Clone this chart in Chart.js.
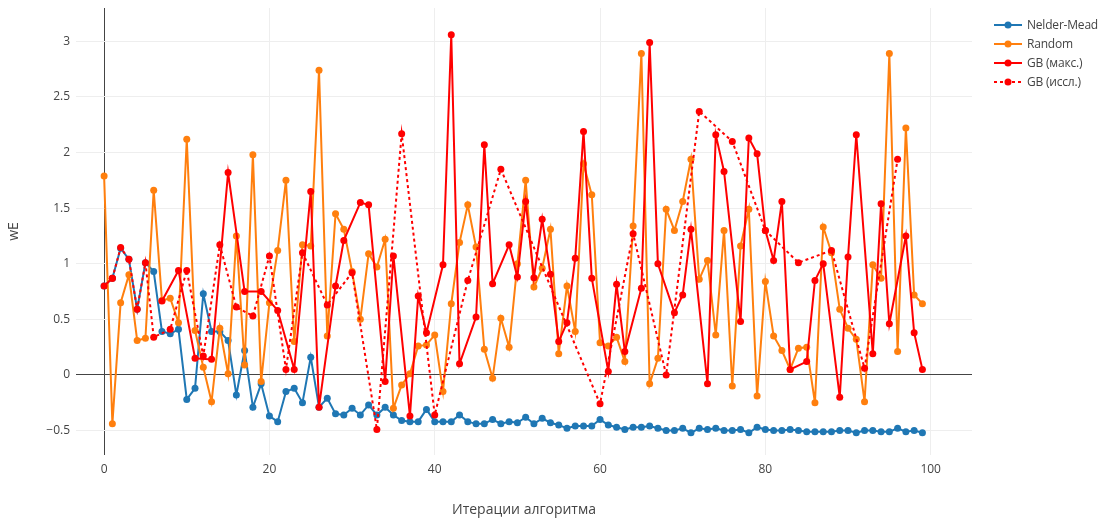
<!DOCTYPE html>
<html>
<head>
<meta charset="utf-8">
<script src="https://cdn.jsdelivr.net/npm/chart.js@4"></script>
<style>
  html, body { margin: 0; padding: 0; background: #fff; }
  #wrap { position: relative; width: 1100px; height: 520px; }
  #legend { position: absolute; left: 993px; top: 15px; font-family: "Open Sans", sans-serif; font-size: 12px; color: #444; white-space: nowrap; letter-spacing: -0.2px; }
  #legend div { height: 19px; display: flex; align-items: center; }
  #legend svg { margin-right: 4px; flex: none; }
</style>
</head>
<body>
<div id="wrap">
  <canvas id="grafica" width="1100" height="520"></canvas>
  <div id="legend"></div>
</div>
<script>
// Значения (индекс = итерация)
const nelderMead = [
  0.80, 0.87, 1.14, 1.04, 0.59, 1.01, 0.93, 0.39, 0.37, 0.41,
  -0.22, -0.12, 0.73, 0.39, 0.39, 0.31, -0.18, 0.22, -0.29, -0.08,
  -0.37, -0.42, -0.15, -0.12, -0.25, 0.16, -0.29, -0.21, -0.35, -0.36,
  -0.30, -0.36, -0.27, -0.36, -0.29, -0.36, -0.41, -0.42, -0.42, -0.31,
  -0.42, -0.42, -0.42, -0.36, -0.42, -0.44, -0.44, -0.40, -0.44, -0.42,
  -0.43, -0.38, -0.44, -0.39, -0.43, -0.45, -0.48, -0.46, -0.46, -0.46,
  -0.40, -0.45, -0.47, -0.49, -0.47, -0.47, -0.46, -0.48, -0.50, -0.50,
  -0.48, -0.52, -0.48, -0.49, -0.48, -0.50, -0.50, -0.49, -0.52, -0.47,
  -0.49, -0.50, -0.50, -0.49, -0.50, -0.51, -0.51, -0.51, -0.51, -0.50,
  -0.50, -0.52, -0.50, -0.50, -0.51, -0.51, -0.48, -0.51, -0.50, -0.52
];

const random = [
  1.79, -0.44, 0.65, 0.90, 0.31, 0.33, 1.66, 0.67, 0.69, 0.47,
  2.12, 0.40, 0.07, -0.24, 0.42, 0.01, 1.25, 0.09, 1.98, -0.06,
  0.65, 1.12, 1.75, 0.30, 1.17, 1.16, 2.74, 0.35, 1.45, 1.31,
  0.93, 0.50, 1.09, 0.97, 1.22, -0.30, -0.09, 0.01, 0.26, 0.27,
  0.36, -0.15, 0.64, 1.19, 1.53, 1.15, 0.23, -0.03, 0.51, 0.25,
  1.00, 1.75, 0.79, 0.96, 1.31, 0.19, 0.80, 0.39, 1.90, 1.62,
  0.29, 0.26, 0.34, 0.12, 1.34, 2.89, -0.08, 0.15, 1.49, 1.30,
  1.56, 1.94, 0.86, 1.03, 0.36, 1.30, -0.10, 1.16, 1.49, -0.19,
  0.84, 0.35, 0.22, 0.05, 0.24, 0.25, -0.25, 1.33, 1.10, 0.59,
  0.42, 0.32, -0.24, 0.99, 0.87, 2.89, 0.21, 2.22, 0.72, 0.64
];

// GB: точки "макс." и "иссл." (null — точки нет)
const gbMax = [
  0.80, 0.87, null, null, null, null, null, 0.665, null, 0.94,
  null, 0.15, null, 0.14, null, 1.82, null, 0.75, null, 0.75,
  null, 0.58, null, 0.05, null, 1.65, -0.29, null, 0.80, 1.21,
  null, 1.55, 1.53, null, -0.06, 1.07, null, -0.37, 0.71, 0.38,
  null, 0.99, 3.06, 0.10, null, 0.52, 2.07, 0.82, null, 1.17,
  0.88, 1.56, 0.875, 1.40, 0.905, 0.30, 0.47, 1.05, 2.19, 0.87,
  null, 0.03, 0.815, 0.21, null, 0.78, 2.99, 1.00, null, 0.56,
  0.72, 1.31, null, -0.08, 2.16, 1.83, null, 0.48, 2.13, 1.99,
  1.30, 1.03, 1.56, 0.05, null, 0.12, 0.85, 1.00, null, -0.20,
  1.06, 2.16, null, 0.19, 1.54, 0.46, null, 1.25, 0.38, 0.05
];
const gbMaxBreaks = [1]; // после этой итерации линия прерывается

const gbExplore = [
  null, 0.87, 1.145, 1.04, 0.59, 1.01, 0.34, null, 0.41, null,
  0.94, null, 0.17, null, 1.17, null, 0.61, null, 0.53, null,
  1.07, null, 0.05, null, 1.10, null, null, 0.63, null, null,
  0.92, null, null, -0.49, null, null, 2.17, null, null, null,
  -0.36, null, null, null, 0.85, null, null, null, 1.85, null,
  null, null, null, null, null, null, null, null, null, null,
  -0.26, null, null, null, 1.27, null, null, null, 0.00, null,
  null, null, 2.37, null, null, null, 2.10, null, null, null,
  1.30, null, null, null, 1.01, null, null, null, 1.12, null,
  null, null, 0.06, null, null, null, 1.94, null, null, null
];

const xTicks = [0, 20, 40, 60, 80, 100];
const yTicks = [-0.5, 0, 0.5, 1, 1.5, 2, 2.5, 3];

const azul = '#1f77b4';
const naranja = '#ff7f0e';
const rojo = '#ff0000';

function toPoints(arr, breaks) {
  const pts = [];
  arr.forEach((v, i) => {
    if (v !== null) pts.push({ x: i, y: v });
    if (breaks && breaks.includes(i)) pts.push({ x: i + 0.5, y: null });
  });
  return pts;
}

function serie(label, arr, color, order, dash, breaks) {
  return {
    label: label,
    data: toPoints(arr, breaks),
    borderColor: color,
    backgroundColor: color,
    borderWidth: 2,
    borderDash: dash || [],
    pointRadius: 3.5,
    pointBorderWidth: 0,
    pointBackgroundColor: color,
    tension: 0,
    spanGaps: false,
    order: order
  };
}

const ctx = document.getElementById('grafica').getContext('2d');
new Chart(ctx, {
  type: 'line',
  data: {
    datasets: [
      serie('Nelder-Mead', nelderMead, azul, 4),
      serie('Random', random, naranja, 3),
      serie('GB (макс.)', gbMax, rojo, 2, null, gbMaxBreaks),
      serie('GB (иссл.)', gbExplore, rojo, 1, [3, 3])
    ]
  },
  options: {
    responsive: false,
    animation: false,
    devicePixelRatio: 1,
    layout: { padding: { top: 8, right: 128, left: 0, bottom: 0 } },
    plugins: { legend: { display: false }, tooltip: { enabled: false } },
    scales: {
      x: {
        type: 'linear',
        min: -3.4,
        max: 105,
        afterBuildTicks: s => { s.ticks = xTicks.map(v => ({ value: v })); },
        afterFit: s => { s.height = 65; s.paddingLeft = 0; s.paddingRight = 0; },
        grid: {
          color: c => (c.tick && c.tick.value === 0) ? '#444' : '#eee',
          lineWidth: 1,
          drawTicks: false
        },
        border: { display: false },
        ticks: {
          padding: 7,
          color: '#444',
          font: { family: 'Open Sans', size: 12 },
          maxRotation: 0,
          callback: v => v
        },
        title: {
          display: true,
          text: 'Итерации алгоритма',
          color: '#444',
          font: { family: 'Open Sans', size: 14 },
          padding: { top: 0, bottom: 2 }
        }
      },
      y: {
        min: -0.72,
        max: 3.30,
        afterBuildTicks: s => { s.ticks = yTicks.map(v => ({ value: v })); },
        afterFit: s => { s.width = 76; s.paddingTop = 0; s.paddingBottom = 0; },
        grid: {
          color: c => (c.tick && c.tick.value === 0) ? '#444' : '#eee',
          lineWidth: 1,
          drawTicks: false
        },
        border: { display: false },
        ticks: {
          padding: 6,
          color: '#444',
          font: { family: 'Open Sans', size: 12 },
          callback: v => String(v).replace('-', '\u2212')
        },
        title: {
          display: true,
          text: 'wE',
          color: '#444',
          font: { family: 'Open Sans', size: 14 },
          padding: { top: 6, bottom: 0 }
        }
      }
    }
  }
});

// Легенда в стиле plotly
const items = [
  ['Nelder-Mead', azul, false],
  ['Random', naranja, false],
  ['GB (макс.)', rojo, false],
  ['GB (иссл.)', rojo, true]
];
const legend = document.getElementById('legend');
items.forEach(([txt, col, dot]) => {
  const row = document.createElement('div');
  row.innerHTML =
    '<svg width="30" height="10"><line x1="1" y1="5" x2="29" y2="5" stroke="' + col +
    '" stroke-width="2"' + (dot ? ' stroke-dasharray="3,3"' : '') + '/>' +
    '<circle cx="15" cy="5" r="3.5" fill="' + col + '"/></svg><span>' + txt + '</span>';
  legend.appendChild(row);
});
</script>
</body>
</html>
